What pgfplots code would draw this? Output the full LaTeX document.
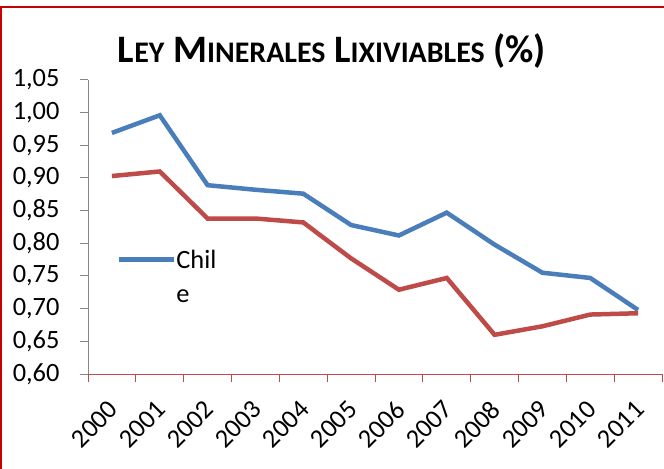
\documentclass[border=0pt]{standalone}
\usepackage{fontspec}
\setmainfont{Carlito}
\usepackage{pgfplots}
\pgfplotsset{compat=1.18}
\definecolor{sblue}{HTML}{4A7EBB}
\definecolor{sred}{HTML}{BE4B48}
\definecolor{framered}{HTML}{C80000}
\definecolor{axgray}{HTML}{868686}
\newcommand{\fsc}[1]{{\fontsize{30}{31}\selectfont #1}}
\begin{document}
\begin{tikzpicture}
\path[use as bounding box] (0bp,0bp) rectangle (664bp,469bp);
\draw[framered, line width=2bp] (0.8bp,0bp) -- (0.8bp,462.3bp) -- (664bp,462.3bp);
\begin{axis}[
  at={(88bp,95bp)}, anchor=south west,
  scale only axis, width=574bp, height=294bp,
  xmin=-0.5, xmax=11.5, ymin=0.6, ymax=1.05,
  axis x line*=bottom, axis y line*=left,
  x axis line style={draw=sred, line width=1bp},
  y axis line style={draw=axgray, line width=1bp},
  xtick={0,...,11},
  xticklabels={2000,2001,2002,2003,2004,2005,2006,2007,2008,2009,2010,2011},
  minor xtick={-0.5,0.5,...,11.5},
  major x tick style={draw=none},
  minor x tick style={draw=sred, line width=1bp},
  ytick={0.6,0.65,0.7,0.75,0.8,0.85,0.9,0.95,1.0,1.05},
  ytick style={draw=axgray, line width=1bp},
  tick align=outside,
  major tick length=8bp, minor tick length=8bp,
  /pgf/number format/.cd, fixed, fixed zerofill, precision=2, use comma, assume math mode=true,
  /pgfplots/.cd,
  ticklabel style={font=\fontsize{26.5}{30}\selectfont},
  yticklabel style={xshift=-17bp},
  xticklabel style={xshift=4bp, yshift=-21bp, rotate=45, anchor=east},
  title={\bfseries\fontsize{39}{41}\selectfont L\fsc{EY} M\fsc{INERALES} L\fsc{IXIVIABLES} (\%)},
  title style={at={(0.425,1.038)}, anchor=base, inner sep=0pt},
  legend style={draw=none, fill=none, at={(0.05,0.44)}, anchor=north west, inner sep=0pt,
    font=\fontsize{26.5}{34}\selectfont, nodes={inner sep=0pt}},
  legend image code/.code={\draw[#1] (0bp,-2bp) -- (55bp,-2bp);},
  legend cell align=left,
]
\addplot[sblue, line width=4.5bp] coordinates {
 (0,0.969) (1,0.996) (2,0.889) (3,0.882) (4,0.876) (5,0.828)
 (6,0.812) (7,0.847) (8,0.798) (9,0.755) (10,0.747) (11,0.698)};
\addlegendentry{\begin{tabular}[t]{@{}l@{}}Chil\\e\end{tabular}}
\addplot[sred, line width=4.5bp, forget plot] coordinates {
 (0,0.903) (1,0.910) (2,0.838) (3,0.838) (4,0.832) (5,0.777)
 (6,0.729) (7,0.747) (8,0.660) (9,0.673) (10,0.691) (11,0.693)};
\end{axis}
\end{tikzpicture}
\end{document}
